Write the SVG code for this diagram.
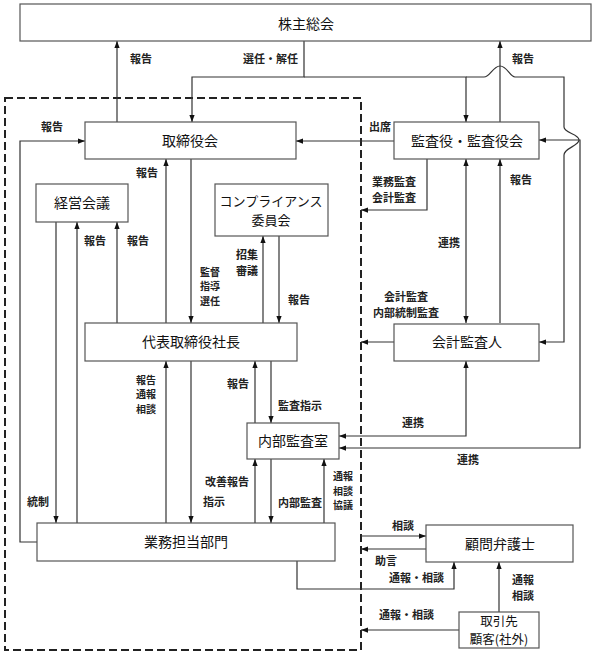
<svg xmlns="http://www.w3.org/2000/svg" width="597" height="658" viewBox="0 0 597 658">
<style>
.box{fill:#fff;stroke:#555;stroke-width:1.2}
.bt{font-family:"Noto Sans CJK JP","Noto Sans",sans-serif;font-size:14px;fill:#111;text-anchor:middle}
.lb{font-family:"Noto Sans CJK JP","Noto Sans",sans-serif;font-size:11px;font-weight:bold;fill:#222}
.s3{font-size:10px}
.ln{fill:none;stroke:#333;stroke-width:1.2}
.a{marker-end:url(#ah)}
.aa{marker-end:url(#ah);marker-start:url(#ah)}
</style>
<defs>
<marker id="ah" viewBox="0 0 8 8" refX="8" refY="4" markerWidth="7" markerHeight="7" orient="auto-start-reverse" markerUnits="userSpaceOnUse"><path d="M0,1 L8,4 L0,7 z" fill="#111"/></marker>
</defs>
<rect width="597" height="658" fill="#fff"/>
<rect x="5" y="98" width="356" height="552" fill="none" stroke="#222" stroke-width="2" stroke-dasharray="8,4"/>

<g id="connectors">
<path class="ln a" d="M117,122 V41"/>
<path class="ln a" d="M304,41 V77 H192 V122"/>
<path class="ln a" d="M304,77 H466 V122"/>
<path class="ln a" d="M466,77 H484 C490,77 493,66 500,66 C507,66 510,77 515,77 H564 V127 C564,133 579,134 579,140 C579,146 564,148 564,155 V342 H539"/>
<path class="ln a" d="M500,122 V41"/>
<path class="ln a" d="M394,141 H296"/>
<path class="ln a" d="M37,542 H20 V141 H85"/>
<path class="ln a" d="M166,323 V159"/>
<path class="ln a" d="M191,159 V323"/>
<path class="ln a" d="M56,222 V523"/>
<path class="ln a" d="M77,523 V222"/>
<path class="ln a" d="M117,323 V222"/>
<path class="ln a" d="M263,323 V236"/>
<path class="ln a" d="M279,236 V323"/>
<path class="ln a" d="M166,523 V361"/>
<path class="ln a" d="M191,361 V523"/>
<path class="ln a" d="M255,423 V361"/>
<path class="ln a" d="M271,361 V423"/>
<path class="ln a" d="M255,523 V459"/>
<path class="ln a" d="M271,459 V523"/>
<path class="ln a" d="M324,523 V459"/>
<path class="ln a" d="M427,159 V210 H361"/>
<path class="ln aa" d="M466,159 V323"/>
<path class="ln a" d="M500,323 V159"/>
<path class="ln a" d="M394,342 H361"/>
<path class="ln aa" d="M466,361 V436 H339"/>
<path class="ln aa" d="M539,140 H580 V448 H339"/>
<path class="ln a" d="M361,536 H426"/>
<path class="ln a" d="M426,549 H361"/>
<path class="ln a" d="M297,561 V589 H454 V562"/>
<path class="ln a" d="M499,612 V562"/>
<path class="ln a" d="M459,630 H361"/>
</g>

<g id="labels">
<text class="lb" x="130" y="63">報告</text>
<text class="lb" x="243" y="63">選任・解任</text>
<text class="lb" x="512" y="63">報告</text>
<text class="lb" x="369" y="131">出席</text>
<text class="lb" x="41" y="131">報告</text>
<text class="lb" x="136" y="177">報告</text>
<text class="lb" x="372" y="186">業務監査<tspan x="372" dy="16">会計監査</tspan></text>
<text class="lb" x="510" y="184">報告</text>
<text class="lb" x="84" y="245">報告</text>
<text class="lb" x="127" y="245">報告</text>
<text class="lb" x="438" y="247">連携</text>
<text class="lb" x="236" y="258.5">招集<tspan x="236" dy="16">審議</tspan></text>
<text class="lb s3" x="200" y="275.5">監督<tspan x="200" dy="14.5">指導</tspan><tspan x="200" dy="14.5">選任</tspan></text>
<text class="lb" x="288" y="304">報告</text>
<text class="lb" x="384" y="301">会計監査<tspan x="373" dy="16">内部統制監査</tspan></text>
<text class="lb s3" x="136" y="383.5">報告<tspan x="136" dy="14.5">通報</tspan><tspan x="136" dy="14.5">相談</tspan></text>
<text class="lb" x="227" y="388">報告</text>
<text class="lb" x="278" y="410">監査指示</text>
<text class="lb" x="402" y="427">連携</text>
<text class="lb" x="457" y="464">連携</text>
<text class="lb" x="205" y="486">改善報告</text>
<text class="lb s3" x="333" y="480">通報<tspan x="333" dy="14.5">相談</tspan><tspan x="333" dy="14.5">協議</tspan></text>
<text class="lb" x="27" y="506">統制</text>
<text class="lb" x="203" y="506">指示</text>
<text class="lb" x="278" y="507">内部監査</text>
<text class="lb" x="392" y="530">相談</text>
<text class="lb" x="375" y="565">助言</text>
<text class="lb" x="389" y="582">通報・相談</text>
<text class="lb" x="512" y="584">通報<tspan x="512" dy="16">相談</tspan></text>
<text class="lb" x="379" y="619">通報・相談</text>
</g>

<g id="n-kabunushi"><rect class="box" x="20" y="4" width="571" height="37"/><text class="bt" x="306" y="29">株主総会</text></g>
<g id="n-torishimari"><rect class="box" x="85" y="122" width="211" height="37"/><text class="bt" x="190" y="146">取締役会</text></g>
<g id="n-kansayaku"><rect class="box" x="394" y="122" width="145" height="37"/><text class="bt" x="467" y="146">監査役・監査役会</text></g>
<g id="n-keiei"><rect class="box" x="36" y="184" width="92" height="38"/><text class="bt" x="82" y="208">経営会議</text></g>
<g id="n-compliance"><rect class="box" x="215" y="184" width="113" height="52"/><text class="bt" x="271" y="206" style="font-size:13px">コンプライアンス<tspan x="271" dy="19">委員会</tspan></text></g>
<g id="n-daihyo"><rect class="box" x="85" y="323" width="212" height="38"/><text class="bt" x="191" y="347">代表取締役社長</text></g>
<g id="n-kaikei"><rect class="box" x="394" y="324" width="145" height="37"/><text class="bt" x="467" y="347">会計監査人</text></g>
<g id="n-naibu"><rect class="box" x="247" y="423" width="92" height="36"/><text class="bt" x="293" y="446">内部監査室</text></g>
<g id="n-gyomu"><rect class="box" x="37" y="523" width="298" height="38"/><text class="bt" x="186" y="547">業務担当部門</text></g>
<g id="n-komon"><rect class="box" x="426" y="525" width="147" height="37"/><text class="bt" x="500" y="549">顧問弁護士</text></g>
<g id="n-torihiki"><rect class="box" x="459" y="612" width="80" height="36"/><text class="bt" x="499" y="625.5" style="font-size:12.5px">取引先<tspan x="499" dy="18.5">顧客(社外)</tspan></text></g>
</svg>
